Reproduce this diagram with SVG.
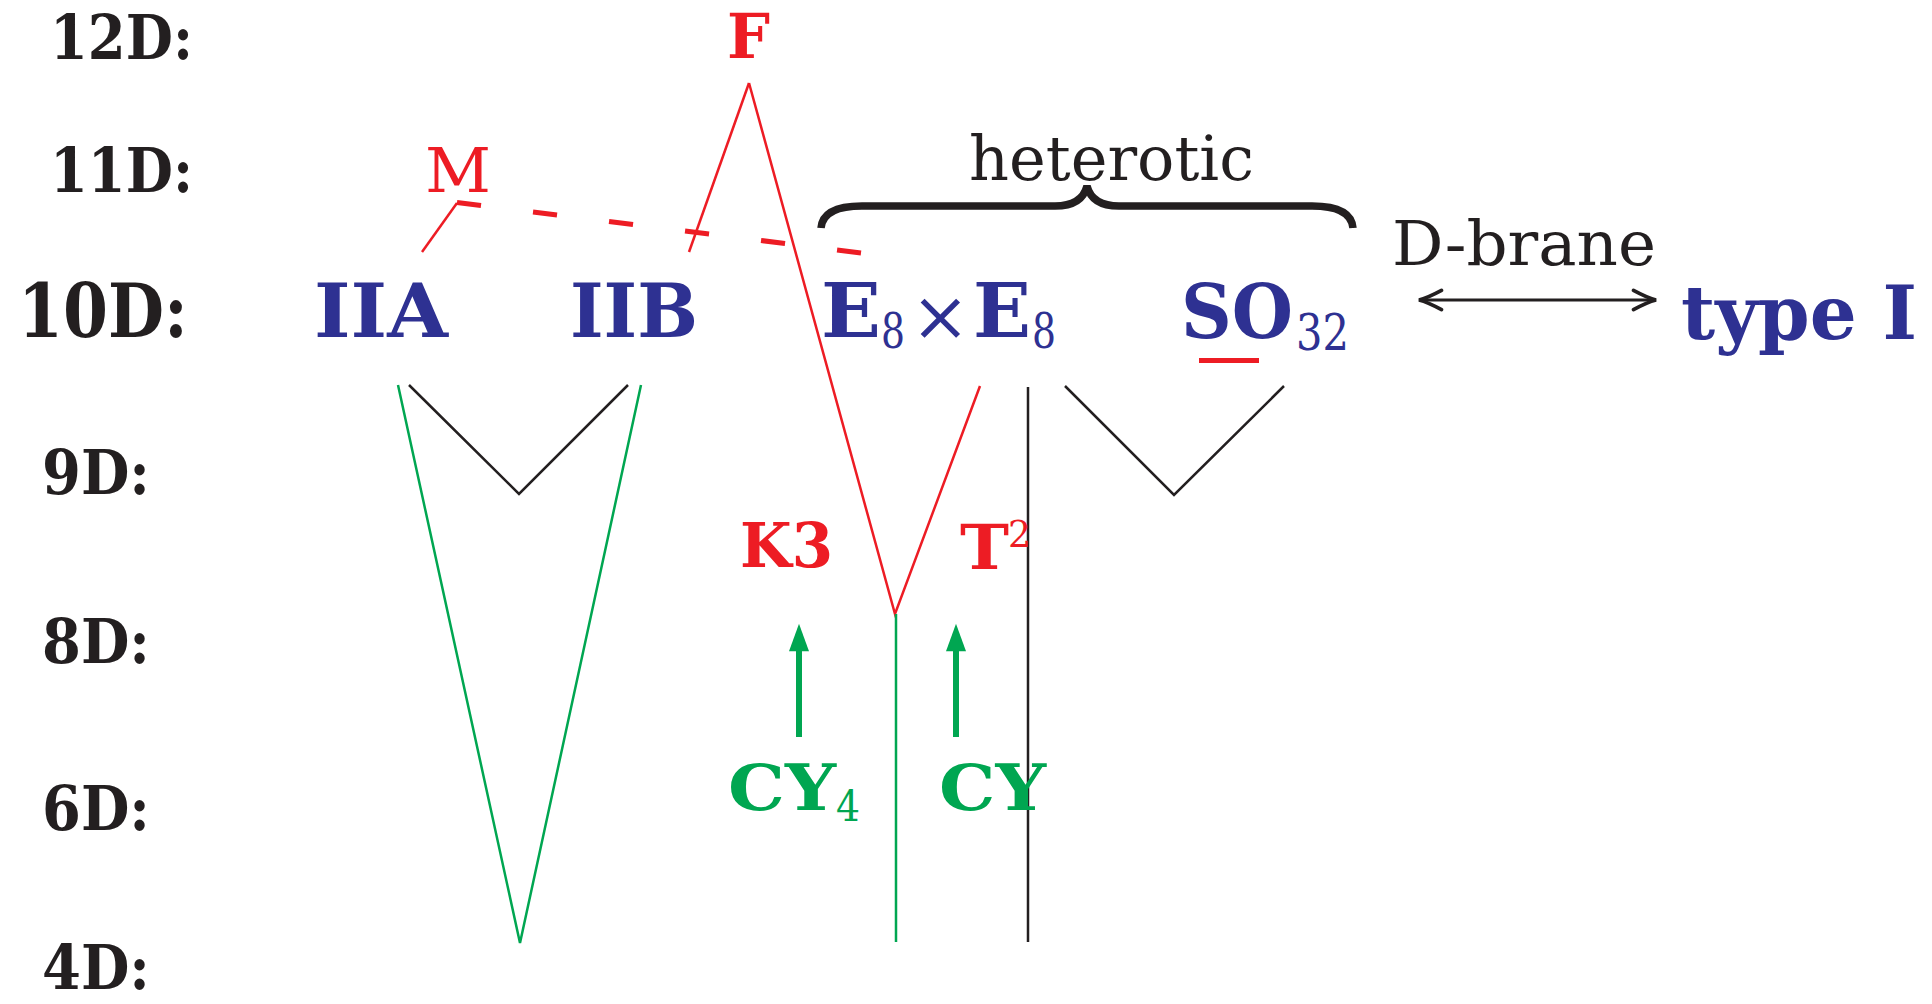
<svg xmlns="http://www.w3.org/2000/svg" width="1932" height="1004" viewBox="0 0 1932 1004">
<style>
text{font-family:"DejaVu Serif","Liberation Serif",serif;font-weight:bold;fill:#231f20;font-size:62px}
.n{font-weight:normal}
.blue{fill:#2e3192}
.red{fill:#ed1c24}
.green{fill:#00a651}
.thin{fill:none;stroke-width:2.5;stroke-linejoin:miter}
.r{stroke:#ed1c24}
.g{stroke:#00a651}
.k{stroke:#231f20}
</style>
<defs>
<marker id="gHead" markerUnits="userSpaceOnUse" markerWidth="30" markerHeight="30" refX="5" refY="0" orient="auto" viewBox="0 -10 24 20" overflow="visible">
<path d="M0,-8 L22,0 L0,8 Z" fill="#00a651"/>
</marker>
<marker id="kHead" markerUnits="userSpaceOnUse" markerWidth="30" markerHeight="30" refX="0" refY="0" orient="auto-start-reverse" viewBox="-24 -12 28 24" overflow="visible">
<path d="M-21,-9 Q-8,-2 0,0 Q-8,2 -21,9" fill="none" stroke="#231f20" stroke-width="3.5" stroke-linecap="round"/>
</marker>
</defs>
<rect width="1932" height="1004" fill="#ffffff"/>

<g id="dim-labels">
<g id="d12"><text x="50" y="59" textLength="143" lengthAdjust="spacingAndGlyphs">12D:</text></g>
<g id="d11"><text x="50" y="192" textLength="143" lengthAdjust="spacingAndGlyphs">11D:</text></g>
<g id="d10"><text x="18" y="337" textLength="170" lengthAdjust="spacingAndGlyphs" style="font-size:74px">10D:</text></g>
<g id="d9"><text x="42" y="494" textLength="108" lengthAdjust="spacingAndGlyphs">9D:</text></g>
<g id="d8"><text x="42" y="663" textLength="108" lengthAdjust="spacingAndGlyphs">8D:</text></g>
<g id="d6"><text x="42" y="830" textLength="108" lengthAdjust="spacingAndGlyphs">6D:</text></g>
<g id="d4"><text x="42" y="989" textLength="108" lengthAdjust="spacingAndGlyphs">4D:</text></g>
</g>

<g id="connectors">
<line class="thin r" x1="422" y1="252" x2="457" y2="203"/>
<line x1="457" y1="202.5" x2="861" y2="253" stroke="#ed1c24" stroke-width="5" stroke-dasharray="24.2 52.4"/>
<line class="thin r" x1="689" y1="252" x2="749" y2="83"/>
<polyline class="thin r" points="749,83 895,614 980,386"/>
<line class="thin g" x1="896" y1="614" x2="896" y2="942"/>
<line class="thin k" x1="1028" y1="387" x2="1028" y2="942" stroke-width="3"/>
<polyline class="thin g" points="398,385 520,943 641,385"/>
<polyline class="thin k" points="409,385 519,494 628,385"/>
<polyline class="thin k" points="1065,386 1174,495 1284,386"/>
<line x1="799" y1="737" x2="799" y2="645" stroke="#00a651" stroke-width="6" marker-end="url(#gHead)"/>
<line x1="956" y1="737" x2="956" y2="645" stroke="#00a651" stroke-width="6" marker-end="url(#gHead)"/>
<line x1="1419" y1="300" x2="1656" y2="300" stroke="#231f20" stroke-width="3" marker-start="url(#kHead)" marker-end="url(#kHead)"/>
<path d="M821,228 Q823,206 862,206 L1055,206 Q1082,206 1087,186 Q1092,206 1119,206 L1312,206 Q1351,206 1353,228" fill="none" stroke="#231f20" stroke-width="7.5"/>
<rect x="1199" y="358" width="60" height="5" fill="#ed1c24"/>
</g>

<g id="node-M"><text class="n red" x="425" y="192" textLength="66" lengthAdjust="spacingAndGlyphs">M</text></g>
<g id="node-F"><text class="red" x="727" y="58" textLength="43" lengthAdjust="spacingAndGlyphs">F</text></g>
<g id="node-IIA"><text class="blue" x="314" y="337" style="font-size:74px" textLength="134" lengthAdjust="spacingAndGlyphs">IIA</text></g>
<g id="node-IIB"><text class="blue" x="570" y="337" style="font-size:74px" textLength="128" lengthAdjust="spacingAndGlyphs">IIB</text></g>
<g id="node-E8E8">
<text class="blue" x="821" y="337" style="font-size:74px" textLength="60" lengthAdjust="spacingAndGlyphs">E</text>
<text class="blue n" x="881" y="348" style="font-size:48px" textLength="24" lengthAdjust="spacingAndGlyphs">8</text>
<text class="blue n" x="911" y="340" style="font-size:70px">×</text>
<text class="blue" x="973" y="337" style="font-size:74px" textLength="58" lengthAdjust="spacingAndGlyphs">E</text>
<text class="blue n" x="1032" y="348" style="font-size:48px" textLength="24" lengthAdjust="spacingAndGlyphs">8</text>
</g>
<g id="node-SO32">
<text class="blue" x="1181" y="338" style="font-size:74px" textLength="112" lengthAdjust="spacingAndGlyphs">SO</text>
<text class="blue n" x="1296" y="350" style="font-size:50px" textLength="53" lengthAdjust="spacingAndGlyphs">32</text>
</g>
<g id="node-typeI"><text class="blue" x="1681" y="339" style="font-size:74px" textLength="236" lengthAdjust="spacingAndGlyphs">type I</text></g>
<g id="label-heterotic"><text class="n" x="969" y="180" textLength="285" lengthAdjust="spacingAndGlyphs">heterotic</text></g>
<g id="label-Dbrane"><text class="n" x="1392" y="265" textLength="264" lengthAdjust="spacingAndGlyphs">D-brane</text></g>
<g id="node-K3"><text class="red" x="740" y="567" textLength="93" lengthAdjust="spacingAndGlyphs">K3</text></g>
<g id="node-T2">
<text class="red" x="960" y="569" textLength="49" lengthAdjust="spacingAndGlyphs">T</text>
<text class="red n" x="1008" y="547" style="font-size:37px" textLength="23" lengthAdjust="spacingAndGlyphs">2</text>
</g>
<g id="node-CY4">
<text class="green" x="728" y="810" style="font-size:64px" textLength="108" lengthAdjust="spacingAndGlyphs">CY</text>
<text class="green n" x="836" y="821" style="font-size:42px" textLength="24" lengthAdjust="spacingAndGlyphs">4</text>
</g>
<g id="node-CY"><text class="green" x="939" y="810" style="font-size:64px" textLength="107" lengthAdjust="spacingAndGlyphs">CY</text></g>
</svg>
